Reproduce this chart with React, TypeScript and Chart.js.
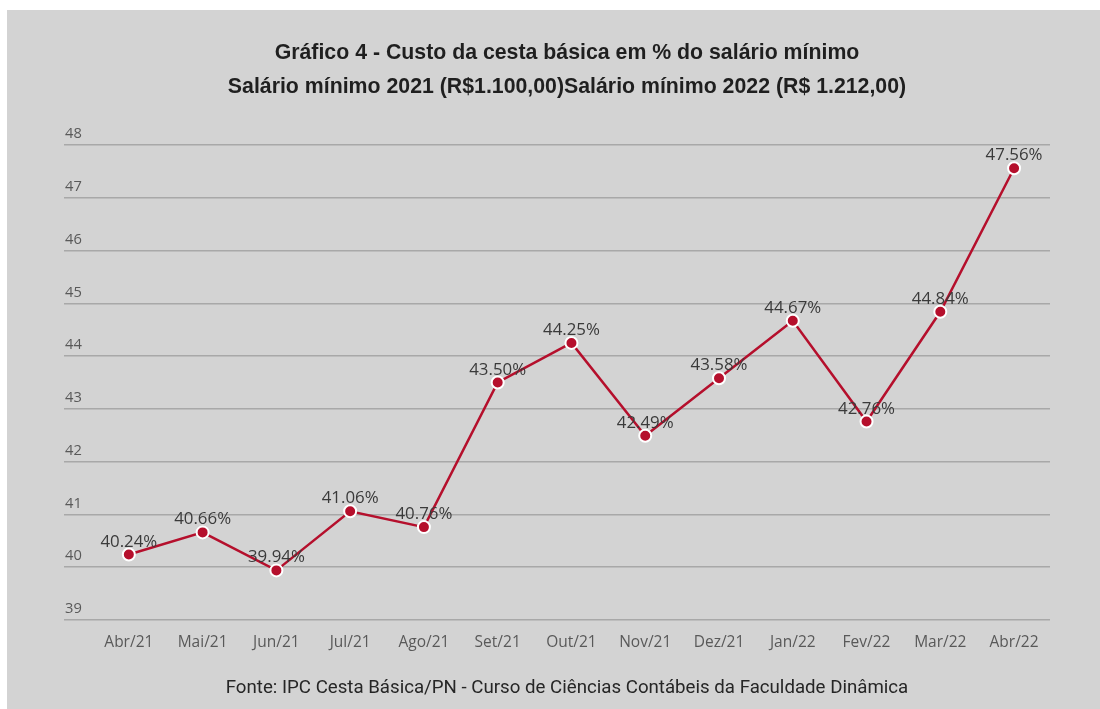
import React, { useEffect, useRef } from "react";
import { Chart, registerables } from "chart.js";

Chart.register(...registerables);

const categories = ["Abr/21", "Mai/21", "Jun/21", "Jul/21", "Ago/21", "Set/21", "Out/21", "Nov/21", "Dez/21", "Jan/22", "Fev/22", "Mar/22", "Abr/22"];
const values = [40.24, 40.66, 39.94, 41.06, 40.76, 43.5, 44.25, 42.49, 43.58, 44.67, 42.76, 44.84, 47.56];
const yTicks = [39, 40, 41, 42, 43, 44, 45, 46, 47, 48];
const titleLines = [
  "Gráfico 4 - Custo da cesta básica em % do salário mínimo",
  "Salário mínimo 2021 (R$1.100,00)Salário mínimo 2022 (R$ 1.212,00)",
];
const footerText = "Fonte: IPC Cesta Básica/PN - Curso de Ciências Contábeis da Faculdade Dinâmica";

const LINE = "#b50f2c";
const BG = "#d3d3d3";
const GRID = "#a8a8a8";

function fitFont(ctx: any, text: string, target: number, weight: string, family: string) {
  ctx.font = `${weight} 20px ${family}`;
  const w = ctx.measureText(text).width;
  const size = (20 * target) / w;
  return `${weight} ${size.toFixed(2)}px ${family}`;
}

const textPlugin = {
  id: "textPlugin",
  afterDatasetsDraw(chart: any) {
    const ctx = chart.ctx;
    const meta = chart.getDatasetMeta(0);
    ctx.save();
    ctx.font = fitFont(ctx, "40.24%", 57, "normal", "'Open Sans', sans-serif");
    ctx.fillStyle = "#3a3a3a";
    ctx.textAlign = "center";
    ctx.textBaseline = "alphabetic";
    meta.data.forEach((pt: any, i: number) => {
      ctx.fillText(values[i].toFixed(2) + "%", pt.x, pt.y - 8);
    });
    ctx.restore();
  },
  afterDraw(chart: any) {
    const ctx = chart.ctx;
    const cx = 560;
    ctx.save();
    ctx.fillStyle = "#1f1f1f";
    ctx.textAlign = "center";
    ctx.textBaseline = "middle";
    ctx.font = fitFont(ctx, titleLines[0], 585, "bold", "'Liberation Sans', Arial, sans-serif");
    ctx.fillText(titleLines[0], cx, 43);
    ctx.fillText(titleLines[1], cx, 77);
    ctx.fillStyle = "#262626";
    ctx.font = fitFont(ctx, footerText, 683, "normal", "Roboto, sans-serif");
    ctx.fillText(footerText, cx, 678);
    ctx.restore();
  },
};

export default function App() {
  const ref = useRef<HTMLCanvasElement | null>(null);
  useEffect(() => {
    if (!ref.current) return;
    const chart = new Chart(ref.current, {
      type: "line",
      data: {
        datasets: [
          {
            data: values.map((v, i) => ({ x: i, y: v })),
            borderColor: LINE,
            borderWidth: 2.5,
            pointBackgroundColor: LINE,
            pointBorderColor: "#ffffff",
            pointBorderWidth: 2,
            pointRadius: 6,
            tension: 0,
          },
        ],
      },
      options: {
        animation: false,
        responsive: false,
        maintainAspectRatio: false,
        layout: { padding: { left: 55, right: 50, top: 135, bottom: 49 } },
        plugins: { legend: { display: false }, title: { display: false }, tooltip: { enabled: false } },
        scales: {
          x: {
            type: "linear",
            min: -0.879,
            max: 12.487,
            grid: { display: false },
            border: { display: false },
            afterBuildTicks: (scale: any) => {
              scale.ticks = categories.map((_, i) => ({ value: i }));
            },
            afterFit: (scale: any) => {
              scale.height = 40;
            },
            ticks: {
              autoSkip: false,
              maxRotation: 0,
              padding: 5,
              color: "#595959",
              font: { family: "'Open Sans', sans-serif", size: 15.5 },
              callback: (v: any) => categories[v] ?? "",
            },
          },
          y: {
            min: 39,
            max: 48,
            afterBuildTicks: (scale: any) => {
              scale.ticks = yTicks.map((v) => ({ value: v }));
            },
            grid: { color: GRID, lineWidth: 1.5, drawTicks: false },
            border: { display: false },
            ticks: {
              mirror: true,
              padding: 1,
              labelOffset: -11,
              color: "#595959",
              font: { family: "'Open Sans', sans-serif", size: 14.7 },
            },
          },
        },
      },
      plugins: [textPlugin],
    } as any);
    return () => chart.destroy();
  }, []);
  return (
    <div style={{ position: "fixed", left: 7, top: 10, width: 1093, height: 699, background: BG }}>
      <canvas ref={ref} width={1093} height={699} style={{ display: "block" }} />
    </div>
  );
}
